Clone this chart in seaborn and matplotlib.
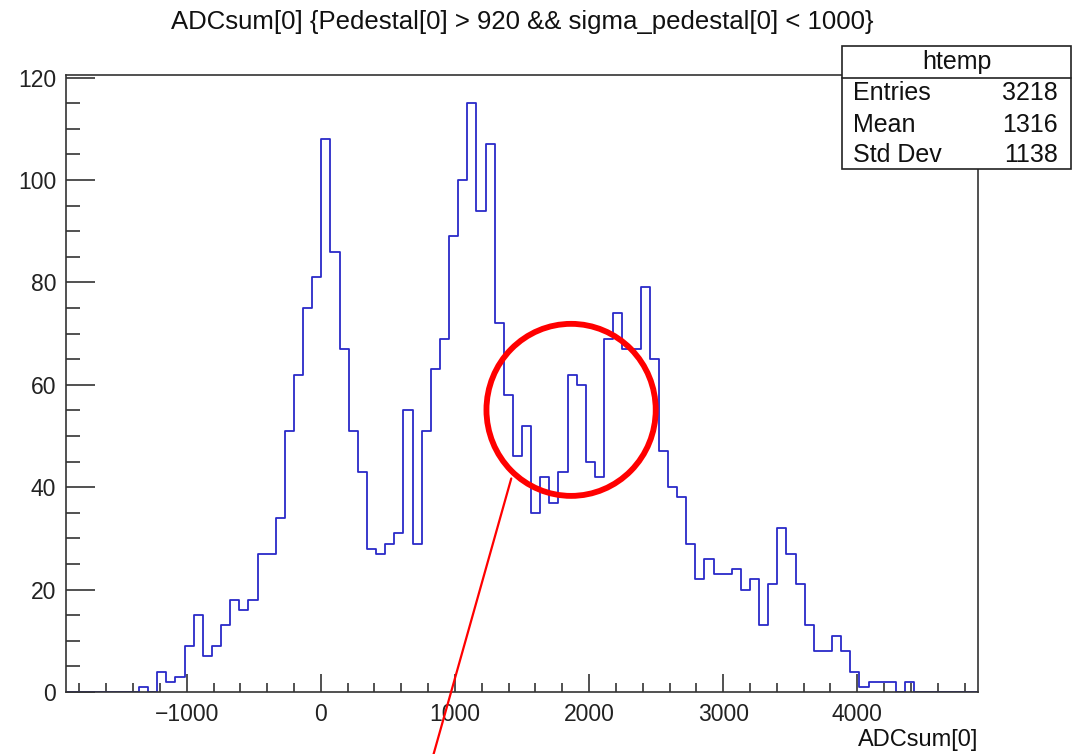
import numpy as np
import pandas as pd
import matplotlib
matplotlib.use("Agg")
import matplotlib.pyplot as plt
from matplotlib.patches import Ellipse, Rectangle
from matplotlib.ticker import MultipleLocator
import seaborn as sns

# ---------------- data ----------------
title_text = "ADCsum[0] {Pedestal[0] > 920 && sigma_pedestal[0] < 1000}"
x_label = "ADCsum[0]"
hist_name = "htemp"
stats_labels = ["Entries", "Mean", "Std Dev"]
stats_values = ["3218", "1316", "1138"]

x_min, x_max, n_bins = -1900, 4900, 100
counts = [
    0, 0, 0, 0, 0, 0, 0, 0, 1, 0,
    4, 2, 3, 9, 15, 7, 9, 13, 18, 16,
    18, 27, 27, 34, 51, 62, 75, 81, 108, 86,
    67, 51, 43, 28, 27, 29, 31, 55, 29, 51,
    63, 69, 89, 100, 115, 94, 107, 72, 58, 46,
    52, 35, 42, 37, 43, 62, 60, 45, 42, 69,
    74, 67, 67, 79, 65, 47, 40, 38, 29, 22,
    26, 23, 23, 24, 20, 22, 13, 21, 32, 27,
    21, 13, 8, 8, 11, 8, 4, 1, 2, 2,
    2, 0, 2, 0, 0, 0, 0, 0, 0, 0,
]
x_ticks = [-1000, 0, 1000, 2000, 3000, 4000]
y_ticks = [0, 20, 40, 60, 80, 100, 120]

# annotation (red circle + pointer line), in data units
circle_center = (1866, 55.1)
circle_width, circle_height = 1262, 33.6
pointer_x = [1420, 826]
pointer_y = [41.7, -13.5]

# ---------------- figure ----------------
sns.set_style("white")
plt.rcParams["font.family"] = ["Liberation Sans", "DejaVu Sans"]

W, H = 1078, 754
fig = plt.figure(figsize=(W / 100, H / 100), dpi=100)
L, R, T, B = 66, 978, 75, 692
ax = fig.add_axes([L / W, 1 - B / H, (R - L) / W, (B - T) / H])

bw = (x_max - x_min) / n_bins
centers = x_min + bw * (np.arange(n_bins) + 0.5)
df = pd.DataFrame({"x": centers, "n": np.asarray(counts, dtype=float)})

sns.histplot(data=df, x="x", weights="n", bins=n_bins, binrange=(x_min, x_max),
             element="step", fill=False, color="#2a2ac8", linewidth=1.3, ax=ax)

ax.set_xlim(x_min, x_max)
ax.set_ylim(0, 120.5)
ax.set_xticks(x_ticks)
ax.set_yticks(y_ticks)
ax.xaxis.set_minor_locator(MultipleLocator(200))
ax.yaxis.set_minor_locator(MultipleLocator(5))
ax.set_xticklabels([f"\u2212{abs(v)}" if v < 0 else str(v) for v in x_ticks])
ax.tick_params(axis="x", which="both", bottom=True, top=False, direction="in")
ax.tick_params(axis="y", which="both", left=True, right=False, direction="in")
ax.tick_params(axis="x", which="major", length=13, width=1.1,
               labelsize=16.5, pad=8, color="#222222", labelcolor="#222222")
ax.tick_params(axis="x", which="minor", length=6.5, width=1.1, color="#222222")
ax.tick_params(axis="y", which="major", length=21, width=1.1,
               labelsize=16.5, pad=7, color="#222222", labelcolor="#222222")
ax.tick_params(axis="y", which="minor", length=10, width=1.1, color="#222222")
ax.set_xlabel("")
ax.set_ylabel("")
for s in ax.spines.values():
    s.set_color("#333333")
    s.set_linewidth(1.2)
    s.set_visible(True)

# x label, right-aligned to frame
fig.text(R / W, 1 - 740 / H, x_label, ha="right", va="center",
         fontsize=17, color="#111111")

# title
fig.text(522 / W, 1 - 22 / H, title_text, ha="center", va="center",
         fontsize=18.5, color="#111111")

# stats box
bx0, bx1, by0, by1, bhead = 842, 1071, 46, 169, 77.5
fig.add_artist(Rectangle((bx0 / W, 1 - by1 / H), (bx1 - bx0) / W, (by1 - by0) / H,
                         transform=fig.transFigure, facecolor="white",
                         edgecolor="#222222", linewidth=1.2, zorder=10))
fig.add_artist(plt.Line2D([bx0 / W, bx1 / W], [1 - bhead / H, 1 - bhead / H],
                          transform=fig.transFigure, color="#222222",
                          linewidth=1.2, zorder=11))
fig.text((bx0 + bx1) / 2 / W, 1 - 62 / H, hist_name, ha="center", va="center",
         fontsize=18, color="#111111", zorder=12)
row_y = [93.5, 125, 155.5]
for lab, val, yy in zip(stats_labels, stats_values, row_y):
    fig.text(853 / W, 1 - yy / H, lab, ha="left", va="center", fontsize=18,
             color="#111111", zorder=12)
    fig.text(1058 / W, 1 - yy / H, val, ha="right", va="center", fontsize=18,
             color="#111111", zorder=12)

# red annotation
ax.add_patch(Ellipse(circle_center, circle_width, circle_height, fill=False,
                     edgecolor="#ff0000", linewidth=4.2, zorder=5))
ax.plot(pointer_x, pointer_y, color="#ff0000", linewidth=1.6, clip_on=False,
        zorder=5)

fig.savefig("out.png", dpi=100)
